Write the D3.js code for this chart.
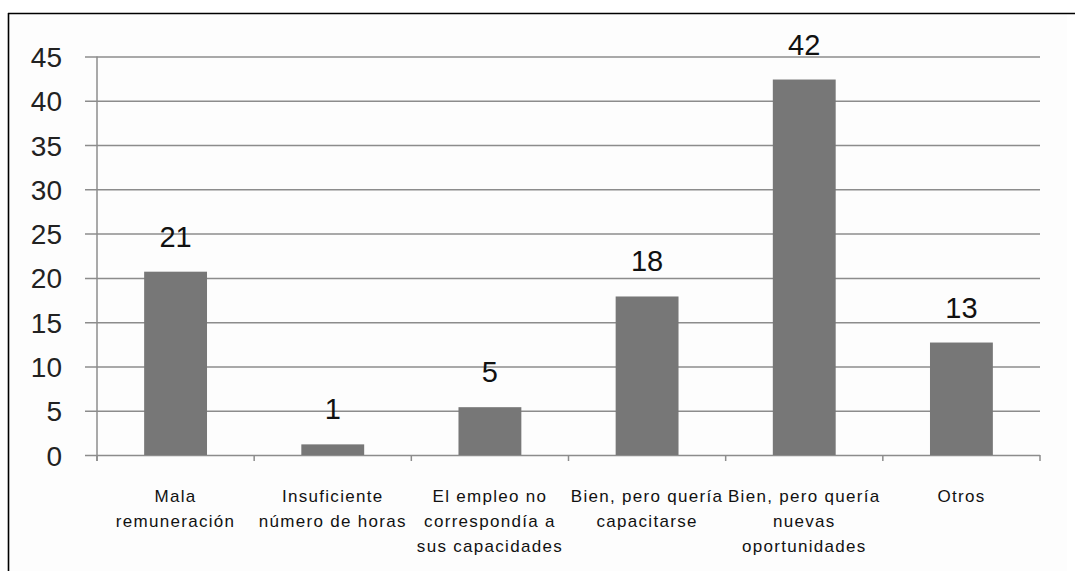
<!DOCTYPE html>
<html><head><meta charset="utf-8">
<script src="https://cdn.jsdelivr.net/npm/d3@7"></script>
<style>html,body{margin:0;padding:0;background:#fff;}svg{display:block;}</style>
</head><body>
<svg id="c" width="1075" height="571"></svg>
<script>
const categories = [
  ["Mala", "remuneración"],
  ["Insuficiente", "número de horas"],
  ["El empleo no", "correspondía a", "sus capacidades"],
  ["Bien, pero quería", "capacitarse"],
  ["Bien, pero quería", "nuevas", "oportunidades"],
  ["Otros"]
];
const values = [20.7, 1.2, 5.4, 17.9, 42.4, 12.7];
const valueLabels = ["21", "1", "5", "18", "42", "13"];
const yTicks = [0, 5, 10, 15, 20, 25, 30, 35, 40, 45];

const svg = d3.select("#c");
const W = 1075, H = 571;
const m = {left: 97, right: 1040, top: 56.5, bottom: 455};

svg.append("rect").attr("x", 8).attr("y", 13).attr("width", 1059).attr("height", H - 13).attr("fill", "#fdfdfd");
svg.append("line").attr("x1", 8).attr("x2", W).attr("y1", 13.5).attr("y2", 13.5).attr("stroke", "#000").attr("stroke-width", 1.6);
svg.append("line").attr("x1", 8.5).attr("x2", 8.5).attr("y1", 13).attr("y2", H).attr("stroke", "#000").attr("stroke-width", 1.6);

const keys = categories.map((c, i) => "c" + i);
const x = d3.scaleBand().domain(keys).range([m.left, m.right]).paddingInner(0.6).paddingOuter(0.3);
const y = d3.scaleLinear().domain([0, 45]).range([m.bottom, m.top]);

// gridlines + y labels
const yAxis = d3.axisLeft(y).tickValues(yTicks).tickSize(m.right - m.left + 12).tickFormat(d => d);
const gy = svg.append("g").attr("transform", `translate(${m.right},0)`).call(yAxis);
gy.select(".domain").remove();
gy.selectAll(".tick line").attr("stroke", "#8c8c8c").attr("stroke-width", 1.5);
gy.selectAll(".tick text").attr("x", -(m.right - 62)).attr("dx", 0).attr("dy", "0.36em")
  .attr("font-family", "Liberation Sans, Arial, sans-serif").attr("font-size", 28).attr("fill", "#222").attr("text-anchor", "end");

// y axis line
svg.append("line").attr("x1", m.left).attr("x2", m.left).attr("y1", y(45)).attr("y2", m.bottom + 6)
  .attr("stroke", "#8c8c8c").attr("stroke-width", 1.5);

// category ticks
const boundaries = d3.range(keys.length + 1).map(i => m.left + i * x.step());
svg.append("g").selectAll("line").data(boundaries).join("line")
  .attr("x1", d => d).attr("x2", d => d).attr("y1", m.bottom).attr("y2", m.bottom + 6)
  .attr("stroke", "#8c8c8c").attr("stroke-width", 1.5);

// bars
svg.append("g").selectAll("rect").data(values).join("rect")
  .attr("x", (d, i) => x(keys[i])).attr("width", x.bandwidth())
  .attr("y", d => y(d)).attr("height", d => y(0) - y(d))
  .attr("fill", "#777777");

// value labels
svg.append("g").selectAll("text").data(values).join("text")
  .attr("x", (d, i) => x(keys[i]) + x.bandwidth() / 2)
  .attr("y", d => y(d) - 25)
  .attr("text-anchor", "middle")
  .attr("font-family", "Liberation Sans, Arial, sans-serif").attr("font-size", 29).attr("fill", "#111")
  .text((d, i) => valueLabels[i]);

// category labels
const cg = svg.append("g").selectAll("text").data(categories).join("text")
  .attr("text-anchor", "middle")
  .attr("font-family", "Liberation Sans, Arial, sans-serif").attr("font-size", 17)
  .attr("letter-spacing", "1.3px").attr("fill", "#111");
cg.each(function(lines, i) {
  const cx = x(keys[i]) + x.bandwidth() / 2;
  d3.select(this).selectAll("tspan").data(lines).join("tspan")
    .attr("x", cx).attr("y", (d, j) => 502 + j * 25).text(d => d);
});
</script>
</body></html>
